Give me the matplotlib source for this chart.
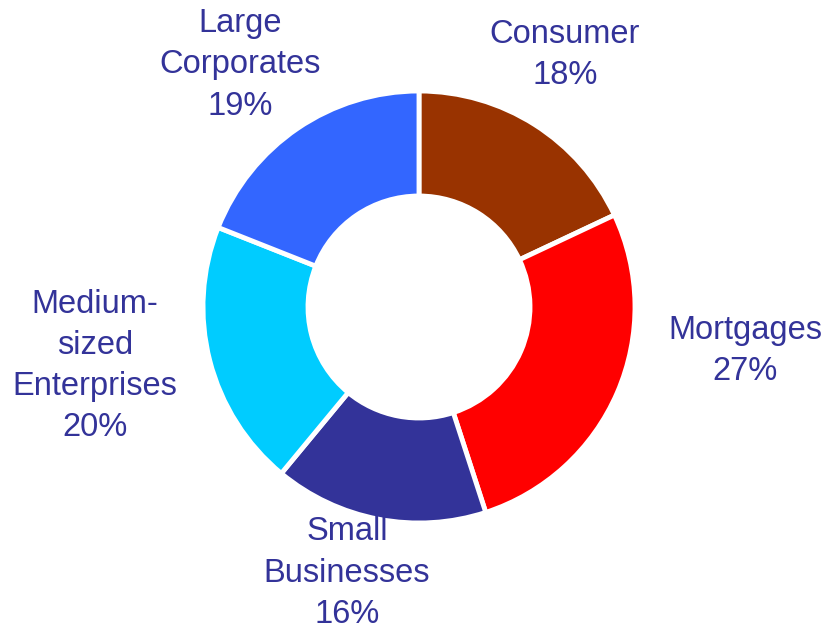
import matplotlib
matplotlib.use("Agg")
import matplotlib.pyplot as plt

categories = ["Consumer", "Mortgages", "Small\nBusinesses", "Medium-\nsized\nEnterprises", "Large\nCorporates"]
values = [18, 27, 16, 20, 19]
colors = ["#993300", "#FF0000", "#333399", "#00CCFF", "#3366FF"]
# label centres in pixel coordinates (layout)
label_pos_px = [(565, 55), (745, 351), (347, 573), (95, 366), (240, 65)]

W, H = 824, 628
cx, cy, R = 419, 307, 216.0
fig = plt.figure(figsize=(W / 100, H / 100), dpi=100)
ax = fig.add_axes([0, 0, 1, 1])

ax.pie(values, colors=colors, startangle=90, counterclock=False, radius=1.0,
       wedgeprops=dict(width=1.0 - 111 / R, edgecolor="white", linewidth=3.5))

ax.set_xlim(-cx / R, (W - cx) / R)
ax.set_ylim((cy - H) / R, cy / R)
ax.set_aspect("equal")
ax.axis("off")

for cat, v, (px, py) in zip(categories, values, label_pos_px):
    ax.text((px - cx) / R, (cy - py) / R, f"{cat}\n{v}%", ha="center", va="center",
            color="#333399", fontsize=23.5, family="Liberation Sans", linespacing=1.42)

fig.savefig("out.png", dpi=100)
